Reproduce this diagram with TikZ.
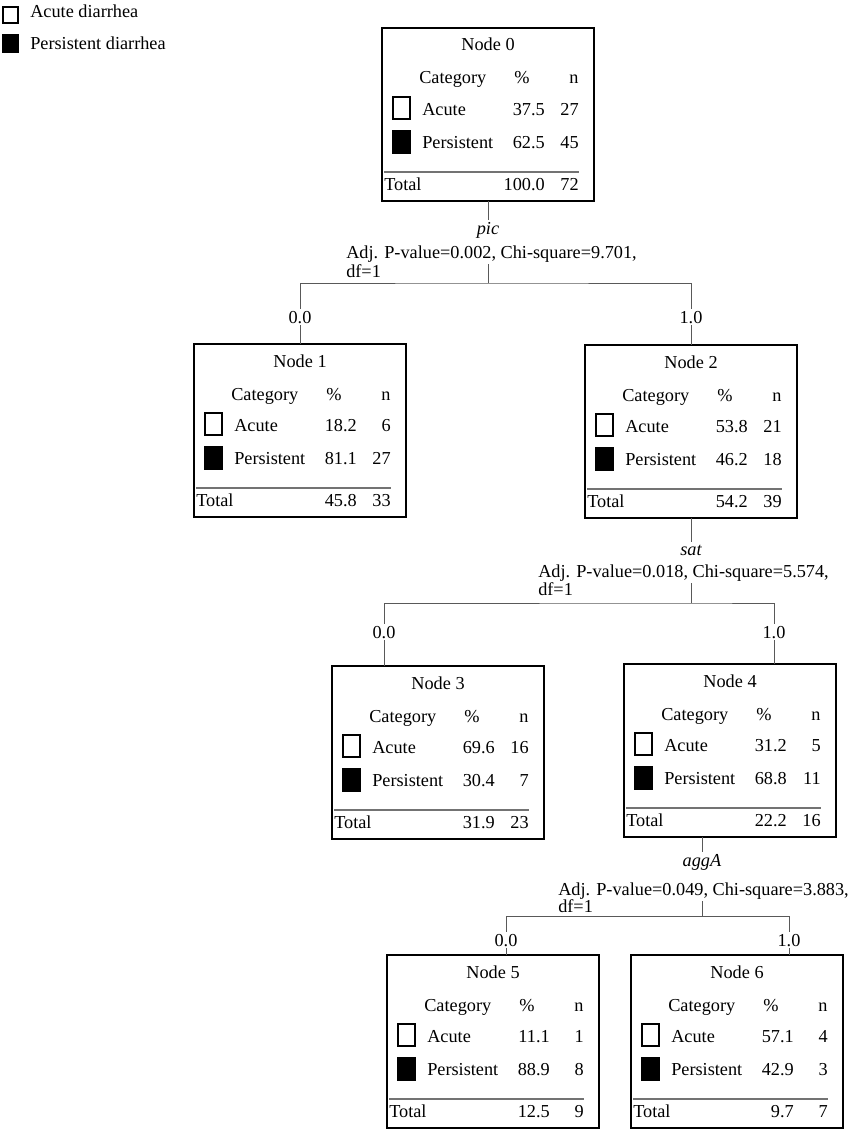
\documentclass[tikz,border=0pt]{standalone}
\usepackage{fontspec}
\setmainfont{Liberation Serif}
\usepackage{tikz}

\begin{document}
\begin{tikzpicture}[x=0.75pt,y=0.75pt,yscale=-1,xscale=1,
  every node/.style={font=\fontsize{13.7}{16}\selectfont},
  treebox/.style={draw,line width=1pt,anchor=north west,inner sep=0pt,outer sep=0pt,minimum width=159pt,minimum height=129.75pt},
  txt/.style={inner sep=0pt,anchor=base},
  txtl/.style={inner sep=0pt,anchor=base west},
  txtr/.style={inner sep=0pt,anchor=base east},
  keyopen/.style={draw,line width=1pt,fill=white},
  keyfull/.style={draw,line width=1pt,fill=black},
  rule/.style={draw=black!55,line width=0.8pt},
  branch/.style={draw=black!65,line width=0.75pt},
  splitvar/.style={inner sep=1.5pt,anchor=base,font=\fontsize{13.7}{16}\selectfont\itshape},
  splittxt/.style={inner sep=1.5pt,anchor=base west},
  splitlab/.style={inner sep=1.5pt,anchor=base,fill=white},
  ]
\useasboundingbox (0,0) rectangle (854,1131);

%Shape: Rectangle [legend keys]
\draw[keyopen] (3,7) rectangle (18,23);
\draw[keyfull] (3,35) rectangle (18,52);
% Text Node
\node[txtl] (legacute) at (30,18) {Acute diarrhea};
% Text Node
\node[txtl] (legpers) at (30,50) {Persistent diarrhea};

% tree nodes: name / left / top / acute % / n / persistent % / n / total % / n
\foreach \i/\lx/\ty/\ap/\an/\pp/\pn/\tp/\tn in {
    0/382/28/37.5/27/62.5/45/100.0/72,
    1/194/344/18.2/6/81.1/27/45.8/33,
    2/585/345/53.8/21/46.2/18/54.2/39,
    3/332/666/69.6/16/30.4/7/31.9/23,
    4/624/664/31.2/5/68.8/11/22.2/16,
    5/387/955/11.1/1/88.9/8/12.5/9,
    6/631/955/57.1/4/42.9/3/9.7/7}{
  \begin{scope}[shift={(\lx,\ty)}]
    \node[treebox] (n\i) at (0,0) {};
    \node[txt] (ttl\i) at (106,23) {Node \i};
    \node[txtl] (cat\i) at (37,56) {Category};
    \node[txt] (pct\i) at (140,56) {\%};
    \node[txt] (cnt\i) at (192,56) {n};
    %Shape: Rectangle
    \draw[keyopen] (11,69) rectangle (28,91);
    \draw[keyfull] (11,103) rectangle (28,125);
    \node[txtl] (ac\i) at (40,87) {Acute};
    \node[txtr] (acp\i) at (163,87) {\ap};
    \node[txtr] (acn\i) at (197,87) {\an};
    \node[txtl] (pe\i) at (40,120) {Persistent};
    \node[txtr] (pep\i) at (163,120) {\pp};
    \node[txtr] (pen\i) at (197,120) {\pn};
    \draw[rule] (2,144) -- (197,144);
    \node[txtl] (tot\i) at (2,162) {Total};
    \node[txtr] (totp\i) at (163,162) {\tp};
    \node[txtr] (totn\i) at (197,162) {\tn};
  \end{scope}
}

% split on pic
\node[splitvar] (var1) at (488,234) {pic};
\node[splittxt] (st1) at (344,258) {Adj. P-value=0.002, Chi-square=9.701,};
\node[splittxt] (df1) at (344,277) {df=1};
\coordinate (j1) at (488,283);
\draw[branch] (n0.south) -- (var1.north);
\draw[branch] (n0.south |- st1.south) -- (j1);
\draw[branch] (n1.north) |- (j1) -| (n2.north);
\node[splitlab] (b10) at (300,323) {0.0};
\node[splitlab] (b11) at (n2.north |- b10.base) {1.0};

% split on sat
\node[splitvar] (var2) at (691,555) {sat};
\node[splittxt] (st2) at (536,577) {Adj. P-value=0.018, Chi-square=5.574,};
\node[splittxt] (df2) at (536,595) {df=1};
\coordinate (j2) at (691,603);
\coordinate (in3) at (384,666);
\coordinate (in4) at (774,664);
\draw[branch] (n2.south) -- (var2.north);
\draw[branch] (n2.south |- st2.south) -- (j2);
\draw[branch] (in3) |- (j2) -| (in4);
\node[splitlab] (b20) at (384,638) {0.0};
\node[splitlab] (b21) at (774,638) {1.0};

% split on aggA
\coordinate (out4) at (702,837);
\node[splitvar] (var3) at (702,866) {aggA};
\node[splittxt] (st3) at (556,895) {Adj. P-value=0.049, Chi-square=3.883,};
\node[splittxt] (df3) at (556,912) {df=1};
\coordinate (j3) at (702,916);
\coordinate (in5) at (506,955);
\coordinate (in6) at (789,955);
\draw[branch] (out4) -- (var3.north);
\draw[branch] (out4 |- st3.south) -- (j3);
\draw[branch] (in5) |- (j3) -| (in6);
\node[splitlab] (b30) at (506,946) {0.0};
\node[splitlab] (b31) at (789,946) {1.0};

\end{tikzpicture}
\end{document}
